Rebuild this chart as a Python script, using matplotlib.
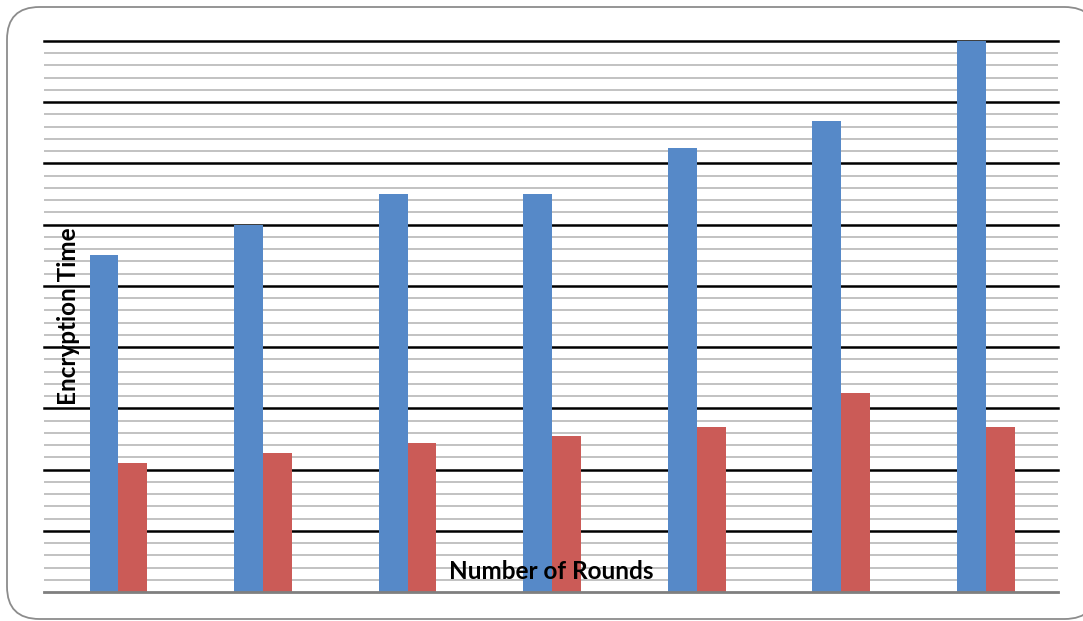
import matplotlib.pyplot as plt
from matplotlib.patches import FancyBboxPatch
import numpy as np

# encryption time per round count (two schemes)
rounds = ["1", "2", "3", "4", "5", "6", "7"]
time_a = [5.5, 6.0, 6.5, 6.5, 7.25, 7.7, 9.0]
time_b = [2.1, 2.27, 2.43, 2.55, 2.7, 3.25, 2.7]

blue = "#5689C8"
red = "#CB5B57"

fig = plt.figure(figsize=(10.83, 6.21), dpi=100)

# rounded frame around the chart
frame = FancyBboxPatch((7 / 1083, 2 / 621), 1090 / 1083, 612 / 621,
                       boxstyle="round,pad=0,rounding_size=0.03",
                       transform=fig.transFigure, facecolor="white",
                       edgecolor="#8c8c8c", linewidth=1.3, zorder=-1,
                       mutation_aspect=1083 / 621)
fig.patches.append(frame)

ax = fig.add_axes([44 / 1083, 29 / 621, 1014 / 1083, 551 / 621])
ax.set_facecolor("none")
ax.set_zorder(1)

x = np.arange(len(rounds))
w = 0.2
ax.bar(x - w / 2, time_a, w, color=blue, zorder=3)
ax.bar(x + w / 2, time_b, w, color=red, zorder=3)

ax.set_xlim(-0.515, len(rounds) - 0.5)
ax.set_ylim(0, 9)

# minor gray lines every 0.2, black major lines every 1
for yv in np.arange(0.2, 9.0, 0.2):
    if abs(yv - round(yv)) > 1e-6:
        ax.axhline(yv, color="#bdbdbd", lw=1.3, zorder=1)
for yv in range(1, 10):
    ax.axhline(yv, color="black", lw=1.8, zorder=2, clip_on=False)
ax.axhline(0, color="#7f7f7f", lw=2, zorder=4, clip_on=False)

for s in ax.spines.values():
    s.set_visible(False)
ax.set_xticks([])
ax.set_yticks([])

ax.text(0.5, 0.037, "Number of Rounds", transform=ax.transAxes,
        ha="center", va="center", fontsize=17.5, fontweight="bold",
        family="Lato", zorder=5)
ax.text(0.0237, 0.5, "Encryption Time", transform=ax.transAxes,
        ha="center", va="center", rotation=90, fontsize=17.5,
        fontweight="bold", family="Lato", zorder=5)

fig.savefig("out.png", dpi=100)
